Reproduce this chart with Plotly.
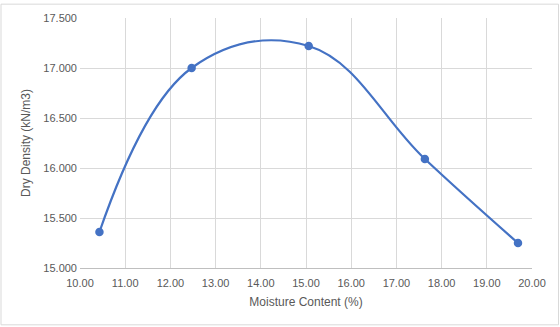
import plotly.graph_objects as go

moisture = [10.43, 12.47, 15.06, 17.63, 19.69]
density = [15.36, 17.00, 17.22, 16.09, 15.25]

x_ticks = [10, 11, 12, 13, 14, 15, 16, 17, 18, 19, 20]
y_ticks = [15.0, 15.5, 16.0, 16.5, 17.0, 17.5]

W, H = 560, 327
L, R, T, B = 80, 28, 15, 59

fig = go.Figure()
fig.add_trace(go.Scatter(
    x=moisture, y=density, mode="lines+markers",
    line=dict(color="#4472C4", width=2.2, shape="spline", smoothing=1.15),
    marker=dict(color="#4472C4", size=8.5),
    showlegend=False,
))

pw = W - L - R
ph = H - T - B
fig.add_shape(type="rect", xref="paper", yref="paper",
              x0=(1 - L) / pw, x1=(W - 1.5 - L) / pw,
              y0=-(H - 1.5 - T - ph) / ph, y1=1 + (T - 1) / ph,
              line=dict(color="#D9D9D9", width=1), layer="below")

font = dict(family="Liberation Sans, Arial, sans-serif", size=11, color="#595959")
fig.update_layout(
    width=W, height=H,
    margin=dict(l=L, r=R, t=T, b=B),
    paper_bgcolor="white", plot_bgcolor="white",
    font=font,
    xaxis=dict(range=[10, 20], tickvals=x_ticks, tickformat=".2f",
               showgrid=True, gridcolor="#D9D9D9", gridwidth=1,
               showline=True, linecolor="#BFBFBF", linewidth=1,
               zeroline=False, ticks="", ticklen=0, ticklabelstandoff=5,
               title=dict(text="Moisture Content (%)", font=dict(size=12, color="#595959"), standoff=9)),
    yaxis=dict(range=[15.0, 17.5], tickvals=y_ticks, tickformat=".3f",
               showgrid=True, gridcolor="#D9D9D9", gridwidth=1,
               showline=False, zeroline=False, ticks="", ticklabelstandoff=2,
               title=dict(text="Dry Density (kN/m3)", font=dict(size=12, color="#595959"), standoff=10)),
)
fig.write_html("out.html")
